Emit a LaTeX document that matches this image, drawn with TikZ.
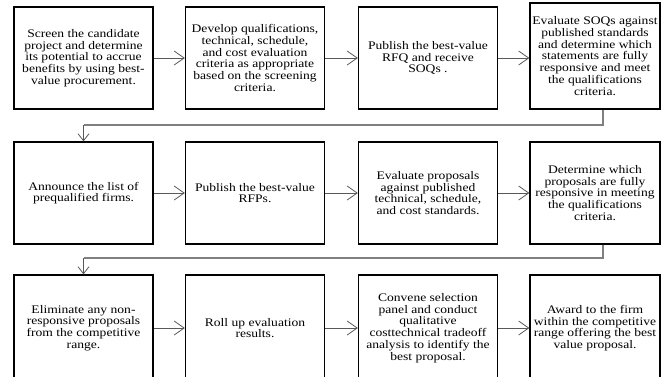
\documentclass[tikz,border=0pt]{standalone}
\usepackage{fontspec}
\setmainfont{Liberation Serif}[FakeStretch=1.17]
\usetikzlibrary{arrows.meta}

\begin{document}
\begin{tikzpicture}[x=1pt,y=-1pt,
  procbox/.style={draw, line width=1.3pt, minimum width=139pt, minimum height=102pt, inner sep=0pt, align=center, font=\fontsize{11.6}{11.7}\selectfont},
  flow/.style={draw=black!65, line width=0.8pt, -{Straight Barb[length=10pt,width=14pt]}},
  drop/.style={draw=black!65, line width=0.8pt, -{Straight Barb[length=7pt,width=11pt]}},
  link/.style={draw=black!50, line width=1.4pt}]
\useasboundingbox (0,0) rectangle (661,376);
\clip (0,0) rectangle (661,376);

% first row
\node[procbox] (st1) at (83.5,58){Screen the candidate\\project and determine\\its potential to accrue\\benefits by using best-\\value procurement.};
\node[procbox] (st2) at (255,58){Develop qualifications,\\technical, schedule,\\and cost evaluation\\criteria as appropriate\\based on the screening\\criteria.};
\node[procbox] (st3) at (428,58){Publish the best-value\\RFQ and receive\\SOQs .};
\node[procbox, minimum width=130pt, minimum height=106pt] (st4) at (595,56){Evaluate SOQs against\\published standards\\and determine which\\statements are fully\\responsive and meet\\the qualifications\\criteria.};
\draw[flow](st1) -- (st2);
\draw[flow](st2) -- (st3);
\draw[flow](st3.east) -- (st3.east -| st4.west);

% second row
\node[procbox] (st5) at (83.5,193){Announce the list of\\prequalified firms.};
\node[procbox] (st6) at (255,193){Publish the best-value\\RFPs.};
\node[procbox] (st7) at (428,193){Evaluate proposals\\against published\\technical, schedule,\\and cost standards.};
\node[procbox, minimum width=130pt] (st8) at (595,193){Determine which\\proposals are fully\\responsive in meeting\\the qualifications\\criteria.};
\draw[flow](st5) -- (st6);
\draw[flow](st6) -- (st7);
\draw[flow](st7) -- (st8);

% third row
\node[procbox, minimum height=106pt] (st9) at (83.5,328){Eliminate any non-\\responsive proposals\\from the competitive\\range.};
\node[procbox, minimum height=106pt] (st10) at (255,328){Roll up evaluation\\results.};
\node[procbox, minimum height=106pt] (st11) at (428,328){Convene selection\\panel and conduct\\qualitative\\costtechnical tradeoff\\analysis to identify the\\best proposal.};
\node[procbox, minimum width=130pt, minimum height=106pt] (st12) at (595,328){Award to the firm\\within the competitive\\range offering the best\\value proposal.};
\draw[flow](st9) -- (st10);
\draw[flow](st10) -- (st11);
\draw[flow](st11) -- (st12);

% row to row
\coordinate (turn1) at (603,125);
\coordinate (turn2) at (603,258);
\draw[link](st4.south -| turn1) -- (turn1) -- (turn1 -| st5.north);
\draw[drop](turn1 -| st5.north) -- (st5.north);
\draw[link](st8.south -| turn2) -- (turn2) -- (turn2 -| st9.north);
\draw[drop](turn2 -| st9.north) -- (st9.north);

\end{tikzpicture}
\end{document}
